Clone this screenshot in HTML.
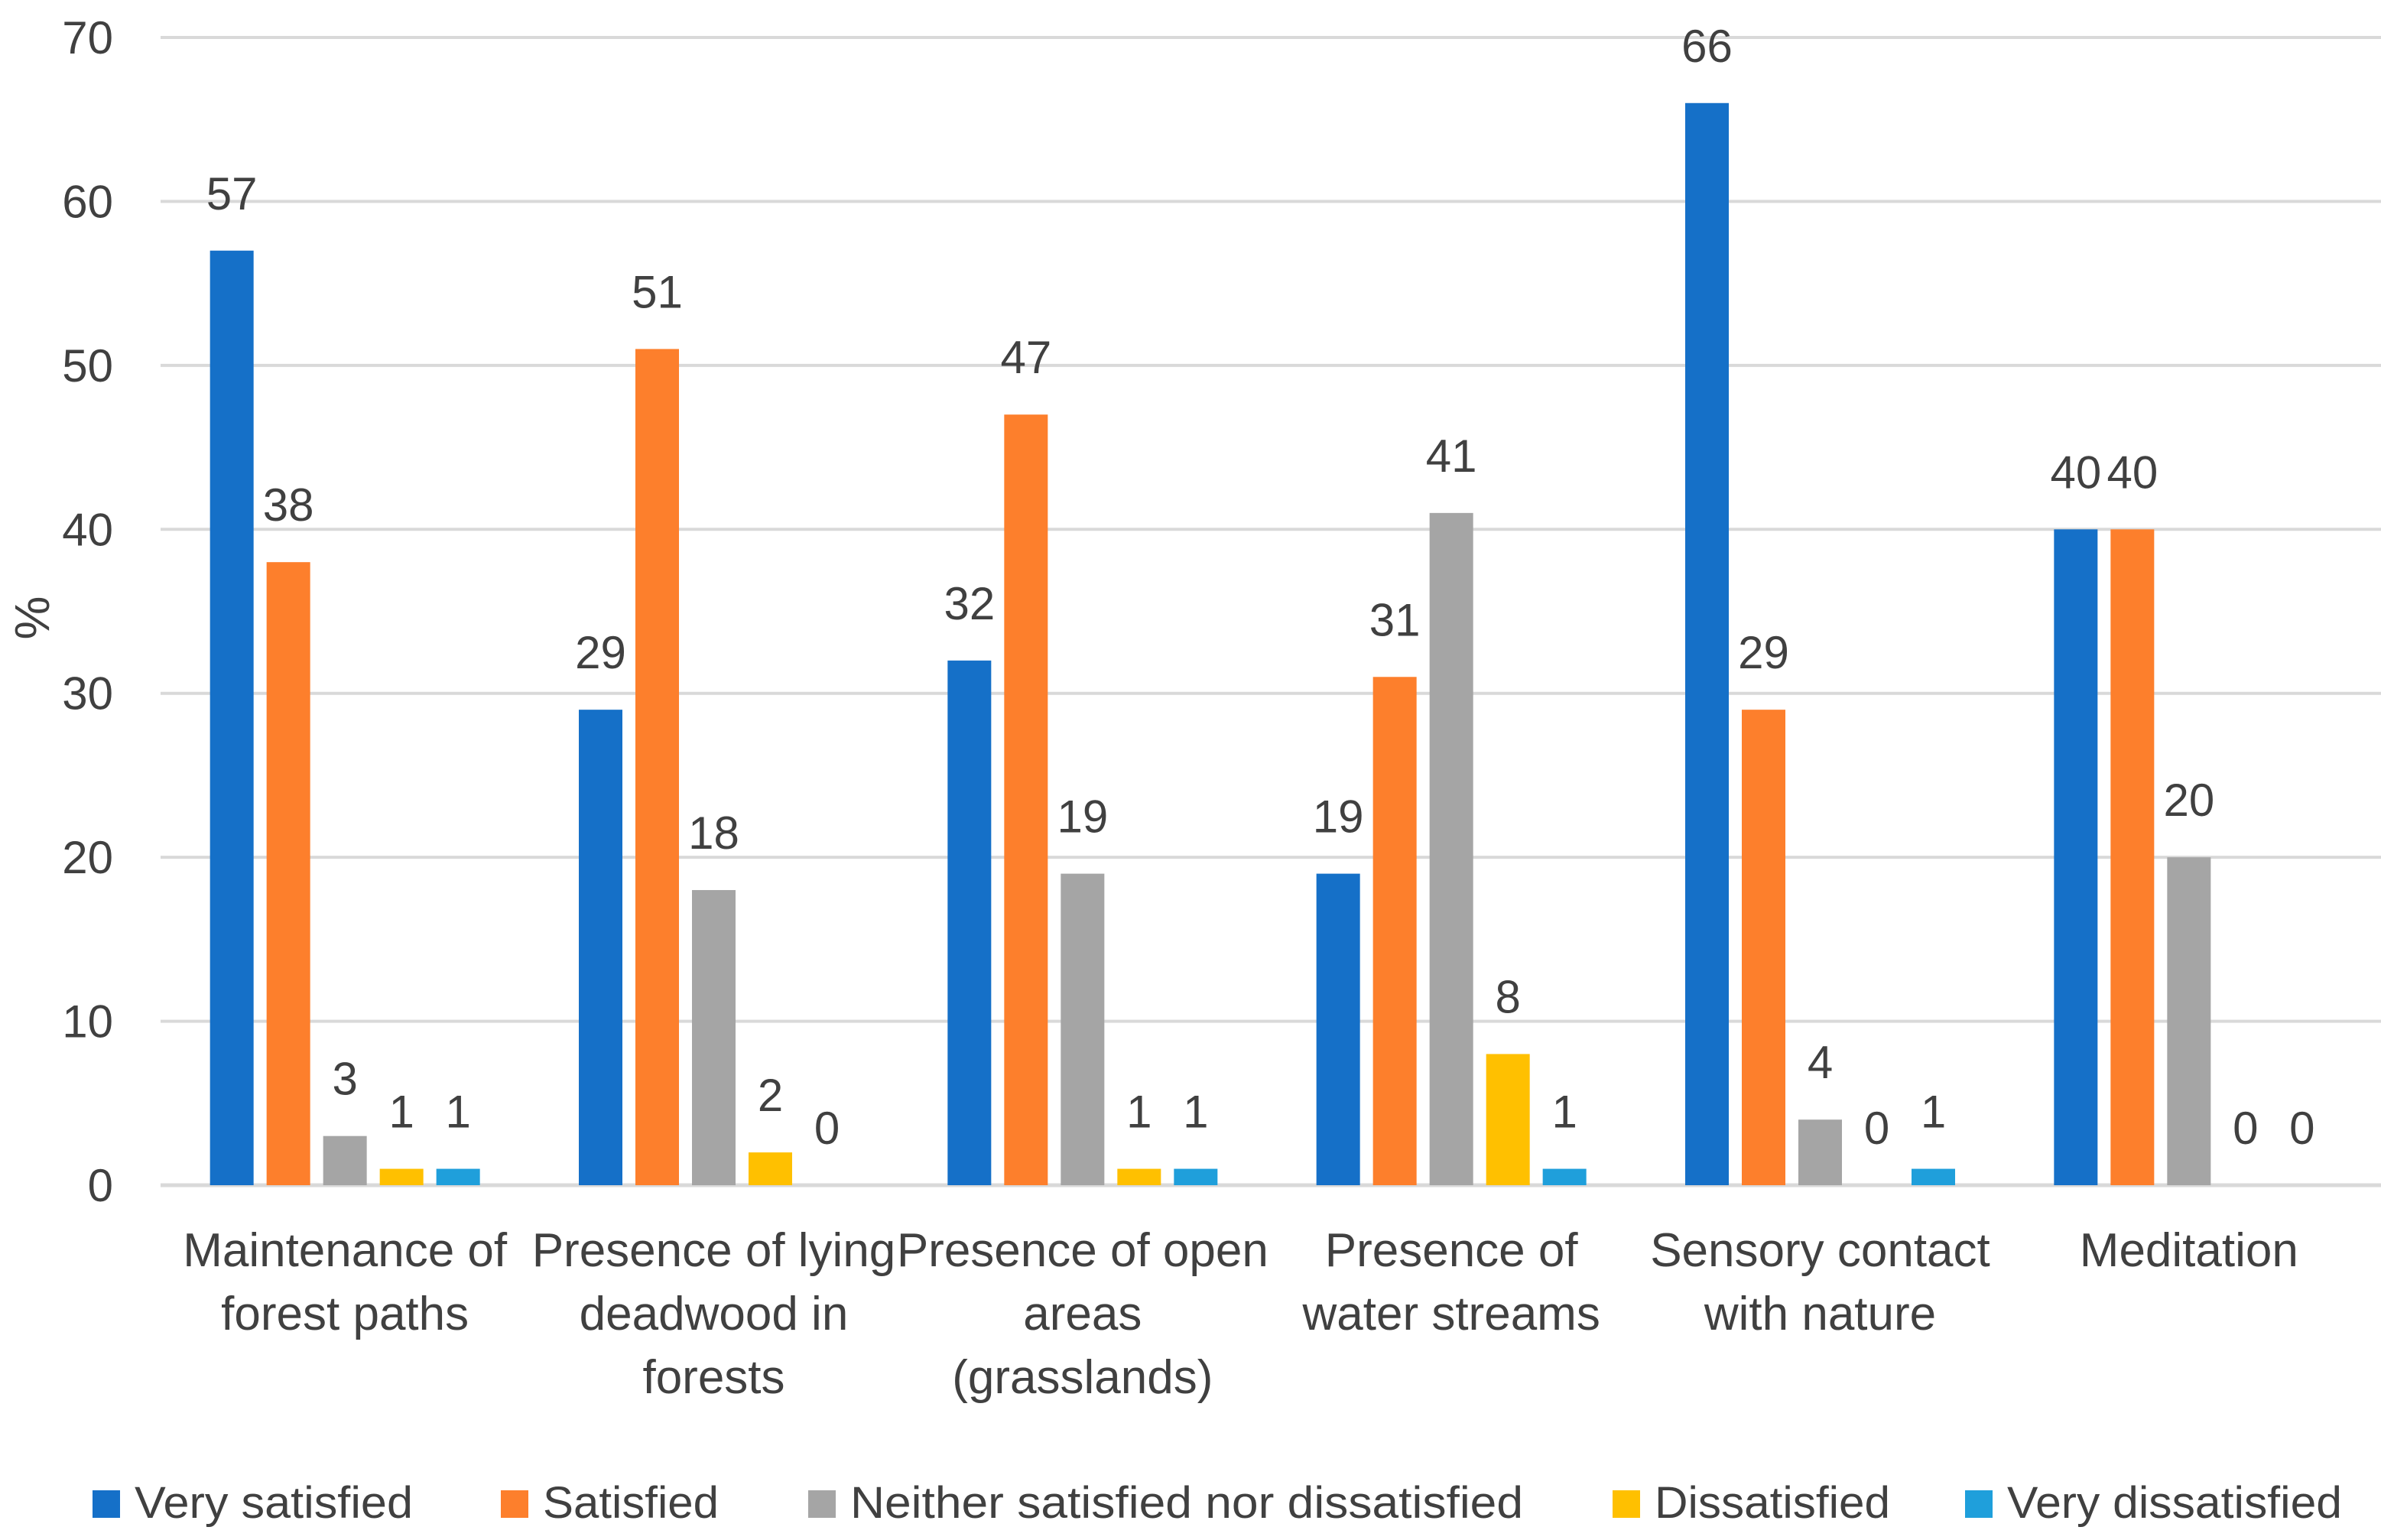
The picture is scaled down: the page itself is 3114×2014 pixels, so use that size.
<!DOCTYPE html>
<html><head><meta charset="utf-8">
<style>
html,body{margin:0;padding:0;background:#fff;}
svg{display:block;font-family:"Liberation Sans",sans-serif;}
</style></head>
<body>
<svg id="chart" width="3114" height="2014" viewBox="0 0 3114 2014" xmlns="http://www.w3.org/2000/svg">
<rect width="3114" height="2014" fill="#fff"/>
<g id="grid"></g><g id="bars"></g><g id="labels"></g><g id="legend"></g>
<text transform="translate(64,808) rotate(-90)" text-anchor="middle" font-size="64" fill="#404040">%</text>
</svg>
<script>
const categories=[["Maintenance of","forest paths"],["Presence of lying","deadwood in","forests"],["Presence of open","areas","(grasslands)"],["Presence of","water streams"],["Sensory contact","with nature"],["Meditation"]];
const seriesNames=["Very satisfied","Satisfied","Neither satisfied nor dissatisfied","Dissatisfied","Very dissatisfied"];
const verySatisfied=[57,29,32,19,66,40];
const satisfied=[38,51,47,31,29,40];
const neither=[3,18,19,41,4,20];
const dissatisfied=[1,2,1,8,0,0];
const veryDissatisfied=[1,0,1,1,1,0];
const yTicks=[0,10,20,30,40,50,60,70];
const series=[verySatisfied,satisfied,neither,dissatisfied,veryDissatisfied];
const colors=["#1570C8","#FD7F2C","#A5A5A5","#FFC000","#1F9FDB"];
const legendX=[121,655,1057,2109,2570];
const legendW=[364,230,880,308,438];
const NS="http://www.w3.org/2000/svg";
const x0=210,x1=3104,gridEnd=3114,yZero=1550,yTop=49,yMax=70;
const y=v=>yZero-(yZero-yTop)*v/yMax;
const groupW=(x1-x0)/categories.length;
const barW=57,step=74;
function mk(tag,attrs,parent){const e=document.createElementNS(NS,tag);for(const k in attrs)e.setAttribute(k,attrs[k]);parent.appendChild(e);return e;}
const grid=document.getElementById('grid'),bars=document.getElementById('bars'),labels=document.getElementById('labels'),legend=document.getElementById('legend');
yTicks.forEach(t=>{
  const l=mk('line',{x1:x0,x2:gridEnd,y1:y(t),y2:y(t),stroke:'#D9D9D9','stroke-width':t===0?5:4},grid);
  
  
  const tx=mk('text',{x:148,y:y(t)+21,'text-anchor':'end','font-size':60,fill:'#404040'},grid);
  tx.textContent=t;
  
  
});
categories.forEach((cat,i)=>{
  const cx=x0+groupW*(i+0.5);
  series.forEach((s,j)=>{
    const v=s[i];
    const bx=cx+(j-2)*step-barW/2;
    if(v>0){
      const r=mk('rect',{x:bx,y:y(v),width:barW,height:yZero-y(v),fill:colors[j]},bars);
      
      
    }
    const t=mk('text',{x:bx+barW/2,y:y(v)-54,'text-anchor':'middle','font-size':60,fill:'#404040'},labels);
    t.textContent=v;
    
    
  });
  cat.forEach((line,k)=>{
    const t=mk('text',{x:cx,y:1656+k*83,'text-anchor':'middle','font-size':62,fill:'#404040'},labels);
    t.textContent=line;
    
    
  });
});
seriesNames.forEach((n,j)=>{
  const r=mk('rect',{x:legendX[j],y:1949,width:36,height:36,fill:colors[j]},legend);
  
  
  const t=mk('text',{x:legendX[j]+55,y:1985,'font-size':58,fill:'#404040',textLength:legendW[j],lengthAdjust:'spacingAndGlyphs'},legend);
  t.textContent=n;
  
  
});
</script>
</body></html>
